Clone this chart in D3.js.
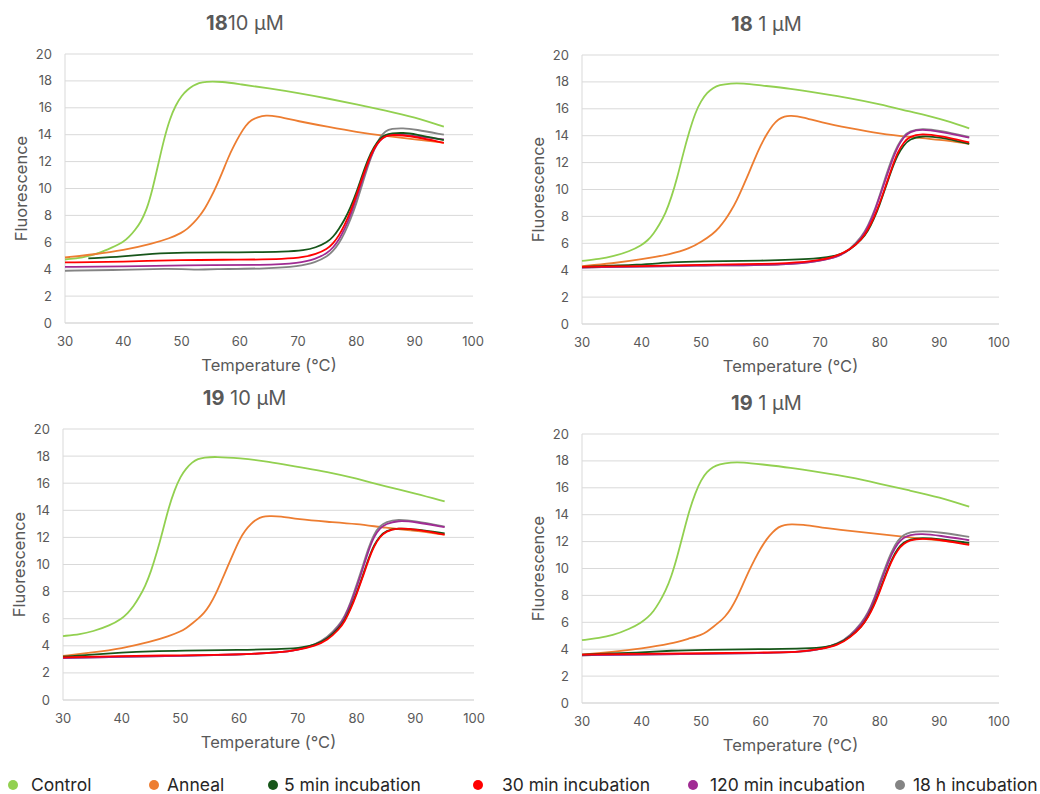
<!DOCTYPE html>
<html>
<head>
<meta charset="utf-8">
<script src="https://cdn.jsdelivr.net/npm/d3@7"></script>
<style>
  body { margin: 0; background: #fff; }
  svg { font-family: Inter, "Open Sans", sans-serif; }
</style>
</head>
<body>
<div id="chart"></div>
<script>
const width = 1040;
const height = 794;

// series names + colours (legend order)
const seriesNames = ["Control", "Anneal", "5 min incubation", "30 min incubation", "120 min incubation", "18 h incubation"];
const seriesColors = ["#92d050", "#ed7d31", "#17561a", "#ff0000", "#a02b93", "#848484"];
const drawOrder = [0, 1, 5, 4, 2, 3];

const xTicks = [30, 40, 50, 60, 70, 80, 90, 100];
const yTicks = [0, 2, 4, 6, 8, 10, 12, 14, 16, 18, 20];

// ---- panel 1 : 18 10 uM ----
const p1Control = [[30,4.72],[33,4.85],[36,5.2],[38,5.6],[40,6.0],[41,6.4],[42,6.9],[43,7.5],[44,8.4],[45,9.9],[46,11.8],[47,13.7],[48,15.2],[49,16.2],[50,16.9],[51,17.35],[52,17.65],[53,17.85],[54,17.95],[57,17.95],[60,17.75],[65,17.45],[70,17.1],[75,16.7],[80,16.25],[85,15.8],[90,15.3],[95,14.6]];
const p1Anneal = [[30,4.87],[35,5.1],[40,5.4],[45,5.9],[48,6.3],[50,6.7],[51,7.0],[52,7.4],[53,7.9],[54,8.5],[55,9.3],[56,10.2],[57,11.2],[58,12.3],[59,13.2],[60,14.0],[61,14.7],[62,15.1],[63,15.3],[64.5,15.45],[66,15.4],[70,15.0],[75,14.6],[80,14.2],[85,13.9],[90,13.65],[95,13.4]];
const p1Inc5 = [[34,4.8],[40,4.95],[45,5.15],[50,5.25],[60,5.25],[68,5.3],[71,5.4],[73,5.6],[75,6.0],[76,6.4],[77,7.0],[78,7.7],[79,8.6],[80,9.7],[81,11.0],[82,12.2],[83,13.1],[84,13.7],[85,14.0],[86,14.1],[88,14.15],[90,14.05],[95,13.6]];
const p1Inc30 = [[30,4.5],[40,4.55],[50,4.7],[60,4.7],[68,4.75],[71,4.9],[73,5.1],[75,5.5],[76,5.9],[77,6.5],[78,7.3],[79,8.3],[80,9.5],[81,10.8],[82,12.0],[83,13.0],[84,13.6],[85,13.9],[86,14.0],[88,13.95],[90,13.85],[95,13.4]];
const p1Inc120 = [[30,4.17],[40,4.2],[50,4.3],[65,4.3],[70,4.45],[73,4.75],[75,5.2],[76,5.6],[77,6.2],[78,7.0],[79,8.0],[80,9.3],[81,10.6],[82,11.9],[83,12.9],[84,13.6],[85,13.9],[86,14.0],[88,14.0],[90,13.9],[95,13.65]];
const p1Inc18h = [[30,3.88],[40,3.95],[48,4.05],[50,4.0],[52,3.95],[55,4.0],[65,4.05],[70,4.2],[73,4.5],[75,4.95],[76,5.35],[77,5.9],[78,6.7],[79,7.7],[80,8.9],[81,10.3],[82,11.7],[83,12.9],[84,13.8],[85,14.3],[86,14.45],[88,14.5],[90,14.4],[95,14.0]];

// ---- panel 2 : 18 1 uM ----
const p2Control = [[30,4.69],[33,4.85],[35,5.0],[38,5.4],[40,5.86],[41,6.2],[42,6.7],[43,7.4],[44,8.2],[45,9.4],[46,10.9],[47,12.7],[48,14.3],[49,15.7],[50,16.6],[51,17.2],[52,17.55],[53,17.77],[55,17.9],[57,17.9],[60,17.74],[65,17.5],[70,17.15],[75,16.8],[80,16.35],[85,15.8],[90,15.3],[95,14.55]];
const p2Anneal = [[30,4.3],[35,4.5],[40,4.8],[45,5.2],[48,5.6],[50,6.1],[52,6.7],[53,7.15],[54,7.7],[55,8.4],[56,9.2],[57,10.2],[58,11.2],[59,12.3],[60,13.3],[61,14.1],[62,14.8],[63,15.25],[64,15.45],[65,15.5],[67,15.4],[70,15.0],[75,14.55],[80,14.15],[85,13.9],[90,13.7],[95,13.4]];
const p2Inc5 = [[30,4.25],[40,4.4],[45,4.6],[50,4.65],[60,4.7],[70,4.85],[73,5.1],[75,5.5],[77,6.3],[78,6.9],[79,7.8],[80,8.9],[81,10.2],[82,11.5],[83,12.6],[84,13.3],[85,13.75],[87,14.0],[90,13.9],[95,13.4]];
const p2Inc30 = [[30,4.25],[40,4.3],[50,4.4],[60,4.45],[68,4.6],[72,4.9],[75,5.5],[77,6.3],[78,7.0],[79,7.9],[80,9.0],[81,10.3],[82,11.6],[83,12.8],[84,13.5],[85,13.95],[87,14.15],[90,14.0],[95,13.5]];
const p2Inc120 = [[30,4.2],[50,4.35],[65,4.4],[70,4.7],[73,5.0],[75,5.5],[77,6.4],[78,7.2],[79,8.2],[80,9.5],[81,10.8],[82,12.1],[83,13.2],[84,13.9],[85,14.3],[87,14.5],[90,14.3],[95,13.85]];
const p2Inc18h = [[30,4.2],[50,4.35],[65,4.4],[70,4.7],[73,5.0],[75,5.55],[77,6.5],[78,7.3],[79,8.3],[80,9.6],[81,11.0],[82,12.3],[83,13.3],[84,14.0],[85,14.35],[87,14.55],[90,14.4],[95,13.9]];

// ---- panel 3 : 19 10 uM ----
const p3Control = [[30,4.72],[33,4.85],[35,5.05],[38,5.5],[40,6.0],[41,6.4],[42,6.9],[43,7.6],[44,8.4],[45,9.5],[46,10.9],[47,12.5],[48,14.2],[49,15.5],[50,16.5],[51,17.1],[52,17.55],[53,17.8],[54,17.9],[56,17.96],[60,17.85],[65,17.6],[70,17.2],[75,16.85],[80,16.35],[85,15.75],[90,15.25],[95,14.65]];
const p3Anneal = [[30,3.25],[35,3.5],[40,3.8],[45,4.3],[48,4.7],[50,5.05],[51,5.3],[52,5.65],[53,6.0],[54,6.4],[55,7.0],[56,7.8],[57,8.8],[58,9.8],[59,10.8],[60,11.8],[61,12.5],[62,13.0],[63,13.35],[64,13.55],[65,13.58],[67,13.58],[70,13.33],[75,13.15],[80,13.0],[85,12.7],[90,12.5],[95,12.2]];
const p3Inc5 = [[30,3.2],[35,3.35],[40,3.5],[45,3.6],[50,3.65],[60,3.7],[68,3.75],[71,3.9],[73,4.1],[75,4.5],[77,5.3],[78,5.9],[79,6.8],[80,7.9],[81,9.1],[82,10.4],[83,11.5],[84,12.1],[85,12.5],[87,12.7],[90,12.6],[95,12.3]];
const p3Inc30 = [[30,3.15],[40,3.25],[50,3.3],[60,3.35],[67,3.5],[70,3.7],[73,4.0],[75,4.4],[77,5.2],[78,5.8],[79,6.7],[80,7.8],[81,9.0],[82,10.3],[83,11.4],[84,12.05],[85,12.45],[87,12.7],[90,12.6],[95,12.2]];
const p3Inc120 = [[30,3.1],[40,3.2],[50,3.25],[60,3.35],[67,3.5],[70,3.7],[73,4.05],[75,4.5],[77,5.4],[78,6.1],[79,7.1],[80,8.3],[81,9.6],[82,11.0],[83,12.1],[84,12.7],[85,13.0],[87,13.25],[90,13.15],[95,12.75]];
const p3Inc18h = [[30,3.1],[40,3.2],[50,3.25],[60,3.35],[67,3.5],[70,3.7],[73,4.1],[75,4.6],[77,5.5],[78,6.2],[79,7.2],[80,8.5],[81,9.8],[82,11.2],[83,12.3],[84,12.85],[85,13.15],[87,13.35],[90,13.2],[95,12.8]];

// ---- panel 4 : 19 1 uM ----
const p4Control = [[30,4.67],[33,4.85],[35,5.0],[38,5.5],[40,6.0],[41,6.35],[42,6.8],[43,7.5],[44,8.3],[45,9.4],[46,10.9],[47,12.6],[48,14.3],[49,15.6],[50,16.6],[51,17.2],[52,17.55],[53,17.75],[55,17.9],[57,17.9],[60,17.75],[65,17.5],[70,17.15],[75,16.8],[80,16.3],[85,15.8],[90,15.3],[95,14.6]];
const p4Anneal = [[30,3.6],[35,3.8],[40,4.05],[45,4.4],[48,4.8],[50,5.05],[51,5.3],[52,5.65],[53,6.0],[54,6.4],[55,7.0],[56,7.8],[57,8.8],[58,9.8],[59,10.7],[60,11.5],[61,12.2],[62,12.7],[63,13.1],[64,13.25],[65,13.3],[67,13.27],[70,13.05],[75,12.8],[80,12.55],[85,12.3],[90,12.1],[95,11.85]];
const p4Inc5 = [[30,3.6],[40,3.75],[45,3.9],[50,3.95],[60,4.0],[68,4.05],[71,4.15],[73,4.4],[75,4.9],[77,5.7],[78,6.4],[79,7.3],[80,8.4],[81,9.6],[82,10.7],[83,11.5],[84,11.95],[85,12.15],[87,12.3],[90,12.2],[95,11.9]];
const p4Inc30 = [[30,3.6],[40,3.65],[50,3.7],[60,3.75],[67,3.8],[70,4.0],[73,4.3],[75,4.85],[77,5.7],[78,6.35],[79,7.2],[80,8.3],[81,9.5],[82,10.6],[83,11.4],[84,11.85],[85,12.1],[87,12.25],[90,12.15],[95,11.75]];
const p4Inc120 = [[30,3.55],[40,3.6],[50,3.65],[60,3.7],[67,3.8],[70,4.0],[73,4.35],[75,4.95],[77,5.9],[78,6.6],[79,7.6],[80,8.8],[81,10.0],[82,11.1],[83,11.9],[84,12.3],[85,12.5],[87,12.6],[90,12.45],[95,12.1]];
const p4Inc18h = [[30,3.55],[40,3.6],[50,3.65],[60,3.7],[67,3.8],[70,4.0],[73,4.4],[75,5.0],[77,6.0],[78,6.7],[79,7.7],[80,9.0],[81,10.2],[82,11.3],[83,12.1],[84,12.5],[85,12.7],[87,12.8],[90,12.7],[95,12.35]];

const panelTitles = [["18", "10 μM"], ["18", " 1 μM"], ["19", " 10 μM"], ["19", " 1 μM"]];
const panelSeries = [
  [p1Control, p1Anneal, p1Inc5, p1Inc30, p1Inc120, p1Inc18h],
  [p2Control, p2Anneal, p2Inc5, p2Inc30, p2Inc120, p2Inc18h],
  [p3Control, p3Anneal, p3Inc5, p3Inc30, p3Inc120, p3Inc18h],
  [p4Control, p4Anneal, p4Inc5, p4Inc30, p4Inc120, p4Inc18h]
];

// plot boxes in the page (left, right, top, bottom)
const boxes = [
  { l: 65, r: 473, t: 54, b: 323 },
  { l: 582, r: 999, t: 55, b: 324 },
  { l: 63, r: 474, t: 429, b: 700 },
  { l: 582, r: 999, t: 434, b: 703 }
];

const svg = d3.select("#chart")
  .append("svg")
  .attr("width", width)
  .attr("height", height);

const textCol = "#595959";

boxes.forEach((bx, i) => {
  const x = d3.scaleLinear().domain([30, 100]).range([bx.l, bx.r]);
  const y = d3.scaleLinear().domain([0, 20]).range([bx.b, bx.t]);
  const g = svg.append("g");

  // gridlines
  g.selectAll(".grid")
    .data(yTicks.filter(d => d > 0))
    .enter().append("line")
    .attr("x1", bx.l).attr("x2", bx.r)
    .attr("y1", d => y(d)).attr("y2", d => y(d))
    .style("stroke", "#d9d9d9")
    .style("stroke-width", 1);

  // axis lines
  g.append("line")
    .attr("x1", bx.l).attr("x2", bx.r)
    .attr("y1", bx.b).attr("y2", bx.b)
    .style("stroke", "#c8c8c8").style("stroke-width", 1.2);
  g.append("line")
    .attr("x1", bx.l).attr("x2", bx.l)
    .attr("y1", bx.t).attr("y2", bx.b)
    .style("stroke", "#d9d9d9").style("stroke-width", 1);

  // tick labels
  g.selectAll(".ylab")
    .data(yTicks)
    .enter().append("text")
    .attr("x", bx.l - 13)
    .attr("y", d => y(d))
    .attr("dy", "0.35em")
    .attr("text-anchor", "end")
    .style("font-size", "13px")
    .style("fill", textCol)
    .text(d => d);
  g.selectAll(".xlab")
    .data(xTicks)
    .enter().append("text")
    .attr("x", d => x(d))
    .attr("y", bx.b + 23)
    .attr("text-anchor", "middle")
    .style("font-size", "13px")
    .style("fill", textCol)
    .text(d => d);

  // axis titles
  g.append("text")
    .attr("x", (bx.l + bx.r) / 2)
    .attr("y", bx.b + 48)
    .attr("text-anchor", "middle")
    .style("font-size", "16.5px")
    .style("fill", textCol)
    .text("Temperature (°C)");
  g.append("text")
    .attr("transform", `translate(${bx.l - 38},${(bx.t + bx.b) / 2}) rotate(-90)`)
    .attr("text-anchor", "middle")
    .style("font-size", "16.5px")
    .style("fill", textCol)
    .text("Fluorescence");

  // panel title
  const title = g.append("text")
    .attr("x", (bx.l + bx.r) / 2 - 24)
    .attr("y", bx.t - 24)
    .attr("text-anchor", "middle")
    .style("font-size", "20px")
    .style("fill", textCol);
  title.append("tspan").style("font-weight", "bold").text(panelTitles[i][0]);
  title.append("tspan").text(panelTitles[i][1]);

  // curves
  const line = d3.line()
    .x(d => x(d[0]))
    .y(d => y(d[1]))
    .curve(d3.curveBasis);

  drawOrder.forEach(k => {
    g.append("path")
      .datum(panelSeries[i][k])
      .attr("d", line)
      .style("fill", "none")
      .style("stroke", seriesColors[k])
      .style("stroke-width", 1.8);
  });
});

// legend
const legendX = [13, 154, 273, 478, 693, 900];
const legendTextX = [31, 167, 284, 502, 710, 913];
const legend = svg.append("g").attr("class", "legend");
seriesNames.forEach((name, k) => {
  legend.append("circle")
    .attr("cx", legendX[k]).attr("cy", 785)
    .attr("r", 5)
    .style("fill", seriesColors[k]);
  legend.append("text")
    .attr("x", legendTextX[k]).attr("y", 785)
    .attr("dy", "0.35em")
    .style("font-size", "17.5px")
    .style("fill", "#262626")
    .text(name);
});
</script>
</body>
</html>
